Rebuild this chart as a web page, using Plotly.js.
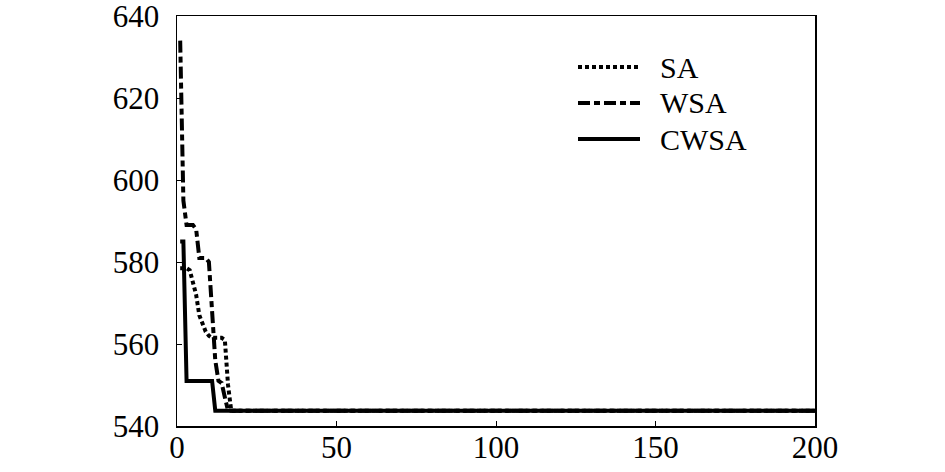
<!DOCTYPE html>
<html>
<head>
<meta charset="utf-8">
<script src="https://cdn.plot.ly/plotly-3.0.1.min.js"></script>
<style>
  html, body { margin: 0; padding: 0; background: #fff; }
  #plot { width: 945px; height: 472px; }
</style>
</head>
<body>
<div id="plot"></div>
<script>
// Convergence curves, values
const saX   = [1, 2, 3, 4, 5, 6, 7, 8, 9, 10, 11, 12, 13, 14, 15, 16, 17, 200];
const saY   = [578.5, 578.5, 578.5, 578, 575, 572, 567, 565, 563, 562, 561.5, 561.5, 561.5, 561.5, 561, 550, 543.7, 543.7];

const wsaX  = [1, 2, 3, 4, 5, 6, 7, 8, 9, 10, 11, 12, 13, 14, 15, 16, 200];
const wsaY  = [634, 595, 589, 589, 589, 588, 581, 581, 581, 580, 568, 556, 551, 550.5, 547, 543.7, 543.7];

const cwsaX = [1, 2, 3, 11, 12, 200];
const cwsaY = [585, 585, 551, 551, 543.7, 543.7];

const xTicks = [0, 50, 100, 150, 200];
const yTicks = [540, 560, 580, 600, 620, 640];

const names = ['SA', 'WSA', 'CWSA'];

const FONT = '"Liberation Serif", "Times New Roman", serif';
const DASHES = ['4px,3px', '12px,4px,6px,4px', 'solid'];

const data = [
    { x: saX, y: saY, name: names[0], type: 'scatter', mode: 'lines',
      line: { color: '#000', width: 4, dash: DASHES[0] } },
    { x: wsaX, y: wsaY, name: names[1], type: 'scatter', mode: 'lines',
      line: { color: '#000', width: 4, dash: DASHES[1] } },
    { x: cwsaX, y: cwsaY, name: names[2], type: 'scatter', mode: 'lines',
      line: { color: '#000', width: 4, dash: DASHES[2] } }
];

// Hand-drawn legend (long sample lines like the original)
const shapes = [];
const annotations = [];
names.forEach((n, i) => {
    const yPx = 67 + i * 36;            // vertical position in page pixels
    const yPaper = 1 - (yPx - 16) / 410;
    shapes.push({ type: 'line', xref: 'paper', yref: 'paper',
        x0: (578 - 177) / 638, x1: (640 - 177) / 638, y0: yPaper, y1: yPaper,
        line: { color: '#000', width: 4, dash: DASHES[i] } });
    annotations.push({ xref: 'paper', yref: 'paper', x: (658 - 177) / 638, y: yPaper,
        xanchor: 'left', yanchor: 'middle', text: n, showarrow: false,
        font: { family: FONT, size: 30, color: '#000' } });
});

const axisCommon = {
    showgrid: false, zeroline: false,
    showline: true, mirror: true, linecolor: '#000', linewidth: 1.5,
    ticks: 'inside', ticklen: 5, tickwidth: 1, tickcolor: '#000',
    ticklabeloverflow: 'allow',
    tickfont: { family: FONT, size: 31, color: '#000' }
};

const layout = {
    width: 945, height: 472,
    margin: { l: 177, r: 130, t: 16, b: 46 },
    paper_bgcolor: '#fff', plot_bgcolor: '#fff',
    showlegend: false,
    xaxis: Object.assign({}, axisCommon, {
        range: [0, 200], tickvals: xTicks, ticktext: xTicks.map(String),
        ticklabelstandoff: -7
    }),
    yaxis: Object.assign({}, axisCommon, {
        range: [540, 640], tickvals: yTicks, ticktext: yTicks.map(String),
        ticklabelstandoff: 10
    }),
    shapes: shapes,
    annotations: annotations
};

Plotly.newPlot('plot', data, layout, { staticPlot: true, displayModeBar: false });
</script>
</body>
</html>
